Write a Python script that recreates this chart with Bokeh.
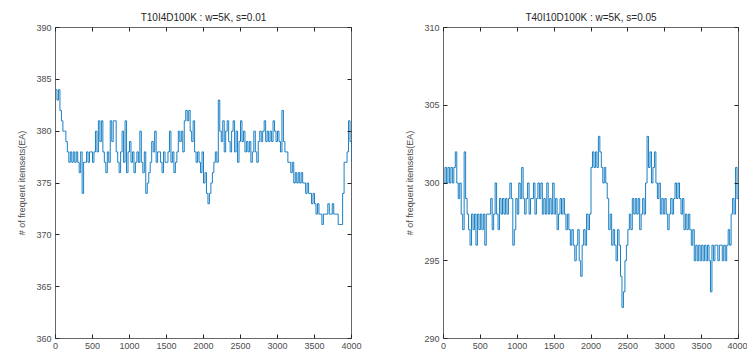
from bokeh.plotting import figure
from bokeh.layouts import row
from bokeh.models import Range1d, LinearAxis, FixedTicker
from bokeh.embed import file_html
from bokeh.resources import INLINE

x_step = 20
titles = ["T10I4D100K : w=5K, s=0.01", "T40I10D100K : w=5K, s=0.05"]
y_label = "# of frequent itemsets(EA)"
x_ticks = [0, 500, 1000, 1500, 2000, 2500, 3000, 3500, 4000]
left_y_ticks = [360, 365, 370, 375, 380, 385, 390]
right_y_ticks = [290, 295, 300, 305, 310]

left_values = [
    384, 383, 384, 382, 381, 380, 380, 379, 378, 377,
    378, 377, 378, 377, 378, 377, 376, 378, 374, 377,
    377, 378, 377, 378, 378, 377, 378, 380, 378, 381,
    379, 381, 378, 377, 376, 378, 377, 381, 379, 381,
    381, 378, 377, 376, 378, 380, 377, 381, 376, 378,
    379, 377, 378, 376, 377, 378, 377, 380, 377, 376,
    378, 374, 375, 376, 377, 379, 378, 380, 377, 378,
    378, 377, 376, 378, 377, 377, 378, 380, 377, 378,
    376, 377, 378, 380, 379, 380, 378, 381, 382, 381,
    382, 380, 379, 381, 378, 377, 378, 377, 376, 378,
    375, 376, 374, 373, 374, 375, 376, 377, 378, 377,
    383, 380, 379, 381, 378, 380, 381, 379, 378, 380,
    381, 378, 380, 377, 379, 381, 379, 380, 378, 379,
    378, 379, 377, 378, 380, 378, 377, 379, 380, 379,
    380, 381, 379, 380, 379, 380, 379, 381, 380, 379,
    380, 379, 378, 382, 379, 378, 378, 377, 377, 376,
    377, 375, 376, 375, 376, 375, 376, 375, 375, 374,
    375, 374, 374, 373, 374, 373, 372, 373, 372, 372,
    371, 372, 372, 372, 373, 372, 372, 373, 372, 372,
    372, 371, 371, 371, 374, 377, 377, 378, 381, 379,
    377,
]

right_values = [
    300, 301, 300, 301, 300, 301, 300, 301, 302, 300,
    299, 300, 298, 297, 302, 299, 298, 297, 296, 298,
    297, 298, 296, 298, 297, 298, 297, 298, 296, 298,
    298, 298, 299, 297, 298, 300, 298, 297, 299, 298,
    299, 298, 299, 298, 299, 300, 299, 296, 297, 299,
    298, 300, 299, 301, 299, 298, 299, 300, 298, 299,
    299, 300, 298, 299, 300, 299, 300, 298, 299, 298,
    300, 298, 299, 298, 300, 298, 299, 297, 298, 299,
    298, 299, 298, 297, 298, 297, 296, 297, 296, 295,
    296, 297, 295, 294, 296, 297, 296, 298, 297, 298,
    301, 302, 301, 302, 301, 303, 302, 301, 300, 301,
    300, 299, 297, 298, 296, 297, 296, 295, 297, 296,
    294, 292, 293, 295, 296, 297, 298, 297, 299, 298,
    299, 298, 299, 297, 298, 299, 298, 300, 303, 301,
    302, 300, 301, 302, 300, 299, 300, 298, 299, 298,
    299, 298, 297, 298, 299, 298, 299, 300, 299, 300,
    299, 298, 299, 297, 298, 297, 298, 297, 296, 297,
    295, 296, 295, 296, 295, 296, 295, 296, 295, 296,
    295, 293, 296, 295, 296, 296, 295, 296, 296, 295,
    296, 295, 296, 297, 296, 298, 299, 298, 301, 299,
    300,
]

LINE = "#0072BD"
TXT = "#4d4d4d"


def make(title, vals, yr, yticks, width, bl, br):
    xs = [i * x_step for i in range(len(vals))]
    p = figure(width=width, height=359, output_backend="svg", toolbar_location=None,
               x_range=Range1d(0, 4000), y_range=Range1d(*yr),
               min_border_left=bl, min_border_right=br,
               min_border_top=27, min_border_bottom=21)
    p.title.text = title
    p.title.align = "center"
    p.title.text_font = "Arial"
    p.title.text_font_size = "10px"
    p.title.text_font_style = "normal"
    p.title.text_color = "#262626"
    p.title.offset = 0
    p.step(xs, vals, mode="after", line_color=LINE, line_width=0.9)
    p.xgrid.visible = False
    p.ygrid.visible = False
    p.outline_line_color = "#262626"
    p.outline_line_width = 1
    p.outline_line_alpha = 0.7
    for ax, ticks in ((p.xaxis[0], x_ticks), (p.yaxis[0], yticks)):
        ax.ticker = FixedTicker(ticks=ticks)
        ax.major_tick_in = 4
        ax.major_tick_out = 0
        ax.minor_tick_line_color = None
        ax.axis_line_color = None
        ax.major_tick_line_color = "#262626"
        ax.major_label_text_font = "Arial"
        ax.major_label_text_font_size = "9px"
        ax.major_label_text_color = TXT
        ax.major_label_standoff = 4
    p.yaxis[0].axis_label = y_label
    p.yaxis[0].axis_label_text_font = "Arial"
    p.yaxis[0].axis_label_text_font_size = "9px"
    p.yaxis[0].axis_label_text_font_style = "normal"
    p.yaxis[0].axis_label_text_color = TXT
    p.yaxis[0].axis_label_standoff = 6
    top = LinearAxis(ticker=FixedTicker(ticks=x_ticks))
    right = LinearAxis(ticker=FixedTicker(ticks=yticks))
    for ax, ticks in ((top, x_ticks), (right, yticks)):
        ax.major_tick_in = 4
        ax.major_tick_out = 0
        ax.minor_tick_line_color = None
        ax.axis_line_color = None
        ax.major_tick_line_color = "#262626"
        ax.major_label_overrides = {t: "" for t in ticks}
        ax.major_label_standoff = 0
    p.add_layout(top, "above")
    p.add_layout(right, "right")
    return p


p1 = make(titles[0], left_values, (360, 390), left_y_ticks, 380, 55, 29)
p2 = make(titles[1], right_values, (290, 310), right_y_ticks, 367, 63, 9)
p = row(p1, p2)

open("out.html", "w").write(file_html(p, INLINE))
